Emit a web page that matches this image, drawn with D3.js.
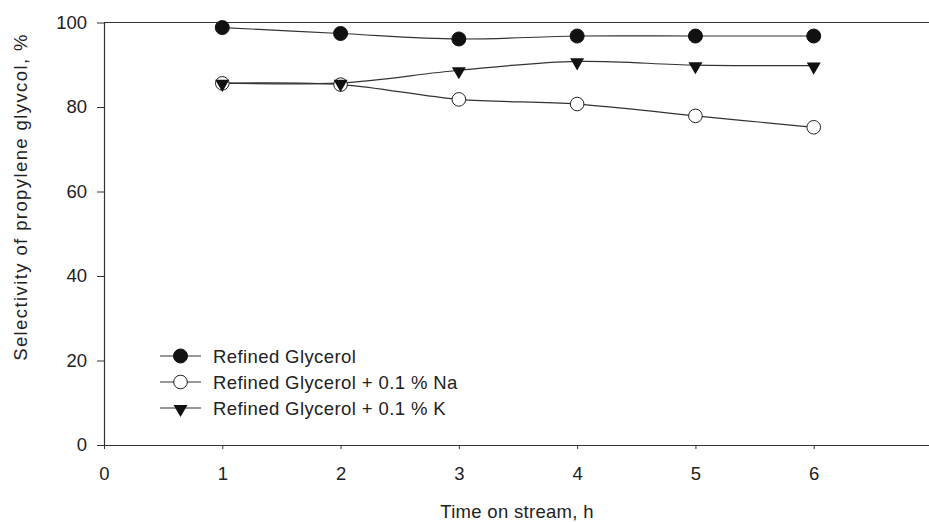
<!DOCTYPE html>
<html><head><meta charset="utf-8">
<script src="https://cdn.jsdelivr.net/npm/d3@7"></script>
<style>body{margin:0;background:#fff}svg{display:block}text{font-family:"Liberation Sans",Arial,sans-serif;fill:#222}</style>
</head><body><svg id="c" width="929" height="522"></svg>
<script>
const times = [1, 2, 3, 4, 5, 6];
const refined = [98.8, 97.4, 96.1, 96.8, 96.8, 96.8];
const refinedNa = [85.6, 85.3, 81.8, 80.7, 77.9, 75.2];
const refinedK = [85.7, 85.7, 88.7, 90.8, 89.9, 89.8];
const seriesNames = ["Refined Glycerol", "Refined Glycerol + 0.1 % Na", "Refined Glycerol + 0.1 % K"];
const xTicks = [0, 1, 2, 3, 4, 5, 6];
const yTicks = [0, 20, 40, 60, 80, 100];

const svg = d3.select("#c");
const x = d3.scaleLinear().domain([0, 7]).range([104, 932]);
const y = d3.scaleLinear().domain([0, 100]).range([445, 22.5]);
const col = "#333";
const fs = 18.5;

// axes
const xAx = svg.append("g").attr("transform", "translate(0,445)")
  .call(d3.axisBottom(x).tickValues(xTicks).tickFormat(d3.format("d")).tickSize(4).tickPadding(18).tickSizeOuter(0));
xAx.select(".domain").attr("stroke", col).attr("stroke-width", 1.2);
xAx.selectAll(".tick line").attr("stroke", col);
xAx.selectAll("text").attr("font-size", fs).attr("fill", "#222");
const yAx = svg.append("g").attr("transform", "translate(104,0)")
  .call(d3.axisLeft(y).tickValues(yTicks).tickFormat(d3.format("d")).tickSize(7).tickPadding(10).tickSizeOuter(0));
yAx.select(".domain").attr("stroke", col).attr("stroke-width", 1.2);
yAx.selectAll(".tick line").attr("stroke", col);
yAx.selectAll("text").attr("font-size", fs).attr("fill", "#222");
// top frame line
svg.append("line").attr("x1", x(0)).attr("x2", 929).attr("y1", y(100)).attr("y2", y(100))
  .attr("stroke", col).attr("stroke-width", 1.2);

svg.append("text").attr("x", 517).attr("y", 518).attr("text-anchor", "middle").attr("font-size", fs)
  .attr("letter-spacing", 0.3).text("Time on stream, h");
svg.append("text").attr("transform", "translate(27,197) rotate(-90)").attr("text-anchor", "middle").attr("font-size", fs)
  .attr("letter-spacing", 1.4).text("Selectivity of propylene glyvcol, %");

const line = d3.line().x((d, i) => x(times[i])).y(d => y(d)).curve(d3.curveCatmullRom.alpha(0.5));
const all = [refined, refinedNa, refinedK];
all.forEach(s => svg.append("path").attr("d", line(s)).attr("fill", "none").attr("stroke", col).attr("stroke-width", 1.2));

const tri = d3.symbol().type(d3.symbolTriangle).size(85);
function marker(g, type, cx, cy) {
  if (type === 0) g.append("circle").attr("cx", cx).attr("cy", cy).attr("r", 7).attr("fill", "#111").attr("stroke", "#111");
  else if (type === 1) g.append("circle").attr("cx", cx).attr("cy", cy).attr("r", 6.8).attr("fill", "#fff").attr("stroke", "#222").attr("stroke-width", 1);
  else g.append("path").attr("d", tri()).attr("transform", `translate(${cx},${cy + 1}) rotate(180)`).attr("fill", "#111");
}
all.forEach((s, k) => {
  const g = svg.append("g");
  s.forEach((v, i) => marker(g, k, x(times[i]), y(v)));
});

// legend
const lg = svg.append("g");
seriesNames.forEach((n, k) => {
  const ly = 356 + k * 26;
  lg.append("line").attr("x1", 160).attr("x2", 201).attr("y1", ly).attr("y2", ly).attr("stroke", col).attr("stroke-width", 1.2);
  marker(lg, k, 180.5, ly);
  lg.append("text").attr("x", 213).attr("y", ly + 7).attr("font-size", fs).attr("letter-spacing", 0.4).text(n);
});
</script></body></html>
